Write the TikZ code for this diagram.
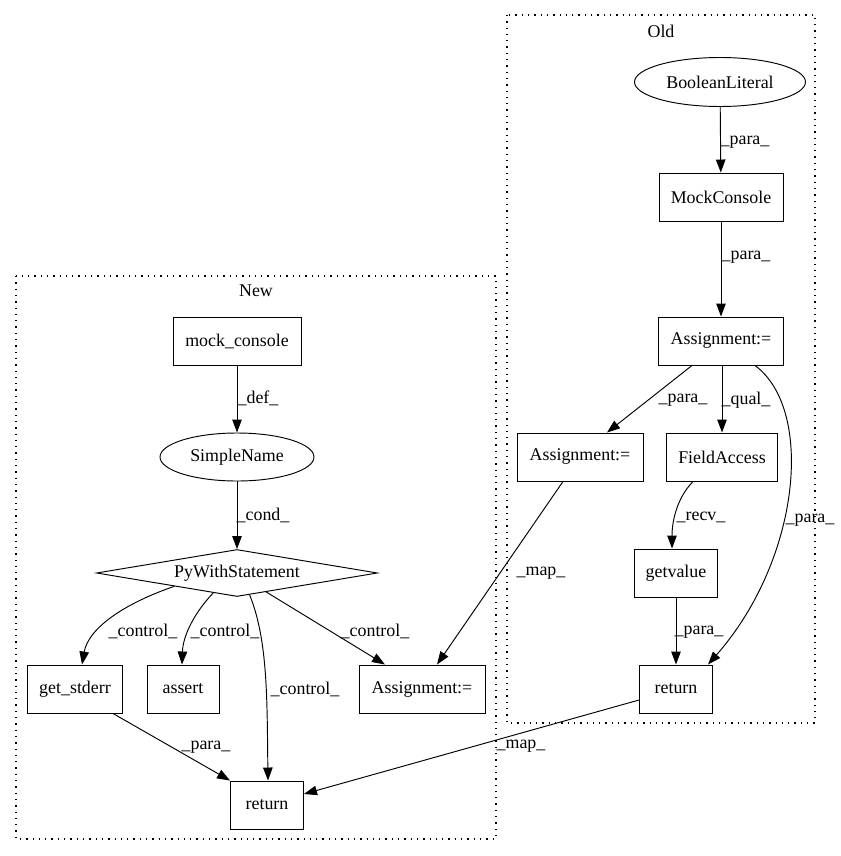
\documentclass[tikz,border=0pt]{standalone}
\usepackage{fontspec}
\setmainfont{Liberation Serif}
\usetikzlibrary{arrows.meta,shapes.geometric}
\begin{document}
\begin{tikzpicture}[x=1pt,y=-1pt,
  every node/.style={font=\fontsize{17.9}{21}\selectfont},
  box/.style={draw,line width=0.95pt,rectangle,minimum height=48pt,inner sep=0pt},
  ell/.style={draw,line width=0.95pt,ellipse,inner sep=0pt},
  dia/.style={draw,line width=0.95pt,diamond,inner sep=0pt,aspect=6},
  edge/.style={draw,line width=0.95pt,-{Triangle[length=13pt,width=9.5pt]}},
  lbl/.style={inner sep=0pt},
  cluster/.style={draw,line width=1.1pt,dash pattern=on 1.3pt off 5pt}]
\useasboundingbox (0,0) rectangle (840,856);
% clusters
\draw[cluster] (507,15) rectangle (815,723);
\draw[cluster] (16,276) rectangle (496,839);
\node[lbl] (tOld) at (661,31) {Old};
\node[lbl] (tNew) at (256,291) {New};
% Old nodes
\node[ell,minimum width=171pt,minimum height=49pt] (BL) at (720,82) {BooleanLiteral};
\node[box,minimum width=124pt] (MC) at (721,197) {MockConsole};
\node[box,minimum width=125pt] (A1) at (721,341) {Assignment:=};
\node[box,minimum width=126pt] (A2) at (580,457) {Assignment:=};
\node[box,minimum width=111pt] (FA) at (722,457) {FieldAccess};
\node[box,minimum width=83pt] (GV) at (676,573) {getvalue};
\node[box,minimum width=73pt] (RO) at (676,689) {return};
% New nodes
\node[box,minimum width=128pt] (MCn) at (237,341) {mock\_console};
\node[ell,minimum width=154pt,minimum height=48pt] (SN) at (237,457) {SimpleName};
\node[dia,minimum width=281pt,minimum height=47pt] (PW) at (237,573) {PyWithStatement};
\node[box,minimum width=95pt] (GS) at (75,689) {get\_stderr};
\node[box,minimum width=72pt] (AS) at (183,689) {assert};
\node[box,minimum width=126pt] (A3) at (422,689) {Assignment:=};
\node[box,minimum width=73pt] (RN) at (267,805) {return};
% Old edges
\draw[edge] (BL) -- (MC);
\draw[edge] (MC) -- (A1);
\draw[edge] ([xshift=-29pt]A1.south) -- ([xshift=27pt]A2.north);
\draw[edge] ([xshift=1pt]A1.south) -- (FA.north);
\draw[edge] ([xshift=34pt]A1.south) .. controls (815,410) and (800,560) .. ([xshift=32pt]RO.north);
\draw[edge] ([xshift=-29pt]FA.south) .. controls (675,500) and (672,525) .. ([xshift=-4pt]GV.north);
\draw[edge] (GV) -- (RO);
% cross edges
\draw[edge] ([xshift=-17pt]A2.south) -- ([xshift=15pt]A3.north);
\draw[edge] ([yshift=-11pt]RO.west) -- ([yshift=11pt]RN.east);
% New edges
\draw[edge] (MCn) -- (SN);
\draw[edge] (SN) -- (PW);
\draw[edge] (PW.-168) .. controls (120,605) and (88,630) .. ([xshift=7pt]GS.north);
\draw[edge] (PW.-140) .. controls (195,612) and (183,635) .. ([xshift=-1pt]AS.north);
\draw[edge] (PW.-60) .. controls (268,640) and (267,700) .. ([xshift=1pt]RN.north);
\draw[edge] (PW.-33) -- ([xshift=-37pt]A3.north);
\draw[edge] ([xshift=38pt]GS.south) -- (RN.north west);
% labels
\node[lbl] (l1) at (745,142) {\_para\_};
\node[lbl] (l2) at (746,257) {\_para\_};
\node[lbl] (l3) at (683,400) {\_para\_};
\node[lbl] (l4) at (746,400) {\_qual\_};
\node[lbl] (l5) at (810,520) {\_para\_};
\node[lbl] (l6) at (701,517) {\_recv\_};
\node[lbl] (l7) at (541,573) {\_map\_};
\node[lbl] (l8) at (699,632) {\_para\_};
\node[lbl] (l9) at (521,746) {\_map\_};
\node[lbl] (l10) at (258,398) {\_def\_};
\node[lbl] (l11) at (263,515) {\_cond\_};
\node[lbl] (l12) at (143,631) {\_control\_};
\node[lbl] (l13) at (225,631) {\_control\_};
\node[lbl] (l14) at (305,689) {\_control\_};
\node[lbl] (l15) at (375,631) {\_control\_};
\node[lbl] (l16) at (206,747) {\_para\_};
\end{tikzpicture}
\end{document}
